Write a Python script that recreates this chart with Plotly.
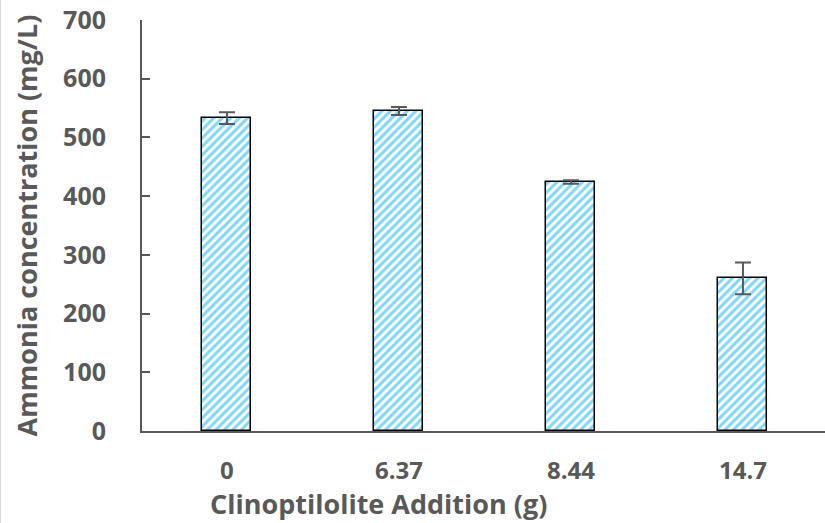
import plotly.graph_objects as go

categories = ["0", "6.37", "8.44", "14.7"]
values = [533, 545, 424, 260]
errors = [10, 7, 3, 27]
y_ticks = [0, 100, 200, 300, 400, 500, 600, 700]
x_title = "Clinoptilolite Addition (g)"
y_title = "Ammonia concentration (mg/L)"

W, H = 825, 523
ml, mr, mt, mb = 142, 0, 20, 92
grey = "#595959"
font_family = "Open Sans"

fig = go.Figure()
fig.add_trace(go.Bar(
    x=list(range(len(categories))),
    y=values,
    width=0.285,
    marker=dict(
        color="white",
        line=dict(color="black", width=1.5),
        pattern=dict(shape="/", fgcolor="#00B0F0", bgcolor="white", size=6, solidity=0.5),
    ),
    error_y=dict(type="data", array=errors, visible=True, color=grey, thickness=2, width=8),
))

pw = W - ml - mr
ph = H - mt - mb
fig.update_layout(
    width=W, height=H,
    margin=dict(l=ml, r=mr, t=mt, b=mb, pad=0),
    plot_bgcolor="white", paper_bgcolor="white",
    showlegend=False,
    font=dict(family=font_family, color=grey),
    xaxis=dict(
        tickmode="array", tickvals=list(range(len(categories))), ticktext=categories,
        range=[-0.494, 3.477],
        showline=True, linecolor=grey, linewidth=2,
        showgrid=False, zeroline=False, ticks="",
        tickfont=dict(size=24, family=font_family, color=grey, weight="bold"),
        ticklabelstandoff=17,
    ),
    yaxis=dict(
        range=[0, 700], tickvals=y_ticks,
        showline=True, linecolor=grey, linewidth=2,
        showgrid=False, zeroline=False,
        ticks="inside", ticklen=8, tickwidth=2, tickcolor=grey,
        tickfont=dict(size=25, family=font_family, color=grey, weight="bold"),
        ticklabelstandoff=29,
        title=dict(text=y_title, standoff=18,
                   font=dict(size=27, family=font_family, color=grey, weight="bold")),
    ),
    bargap=0,
)
fig.add_annotation(text=x_title, xref="paper", yref="paper",
                   x=(378 - ml) / pw, y=-(504 - (mt + ph)) / ph,
                   xanchor="center", yanchor="middle", showarrow=False,
                   font=dict(size=27, family=font_family, color=grey, weight="bold"))
fig.add_shape(type="line", xref="paper", yref="paper",
              x0=-(ml - 0.5) / pw, x1=-(ml - 0.5) / pw, y0=-mb / ph, y1=1 + mt / ph,
              line=dict(color="#d9d9d9", width=1))
fig.write_html("out.html")
